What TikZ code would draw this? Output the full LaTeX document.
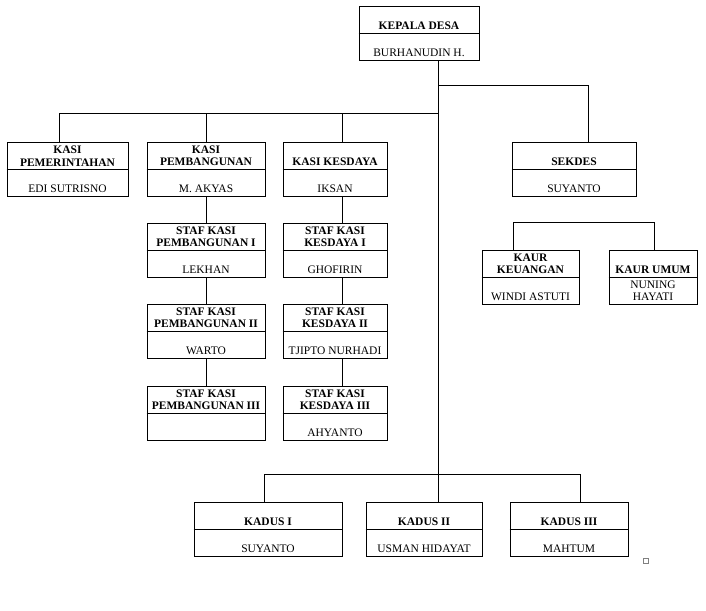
\documentclass[tikz,border=0pt]{standalone}
\usepackage{fontspec}
\setmainfont{Liberation Serif}
\usepackage{tikz}

\begin{document}
\begin{tikzpicture}[x=1pt,y=-1pt,line width=0.9pt]
	\useasboundingbox (0,0) rectangle (706,610);
	\tikzstyle{box}=[draw,minimum height=54pt,inner sep=0pt]
	\tikzstyle{ttl}=[anchor=south,align=center,inner sep=2.5pt,font=\fontsize{11.5}{12.5}\selectfont\bfseries]
	\tikzstyle{nm}=[anchor=south,align=center,inner sep=3.5pt,font=\fontsize{11.5}{12.5}\selectfont]
	\node[box,minimum width=120pt] (kades) at (419,33) {};
	\node[box,minimum width=121pt] (kasipem) at (67.5,169) {};
	\node[box,minimum width=118pt] (kasipb) at (206,169) {};
	\node[box,minimum width=104pt] (kasiks) at (335,169) {};
	\node[box,minimum width=124pt] (sekdes) at (574,169) {};
	\node[box,minimum width=118pt] (stafpb1) at (206,250) {};
	\node[box,minimum width=118pt] (stafpb2) at (206,331) {};
	\node[box,minimum width=118pt] (stafpb3) at (206,413) {};
	\node[box,minimum width=104pt] (stafks1) at (335,250) {};
	\node[box,minimum width=104pt] (stafks2) at (335,331) {};
	\node[box,minimum width=104pt] (stafks3) at (335,413) {};
	\node[box,minimum width=97pt] (kaurku) at (530.5,277) {};
	\node[box,minimum width=88pt] (kaurum) at (653,277) {};
	\node[box,minimum width=148pt] (kadus1) at (268,529) {};
	\node[box,minimum width=116pt] (kadus2) at (424,529) {};
	\node[box,minimum width=118pt] (kadus3) at (569,529) {};
	\draw	(kades.west)--(kades.east) (kasipem.west)--(kasipem.east) (kasipb.west)--(kasipb.east)
			(kasiks.west)--(kasiks.east) (sekdes.west)--(sekdes.east)
			(stafpb1.west)--(stafpb1.east) (stafpb2.west)--(stafpb2.east) (stafpb3.west)--(stafpb3.east)
			(stafks1.west)--(stafks1.east) (stafks2.west)--(stafks2.east) (stafks3.west)--(stafks3.east)
			(kaurku.west)--(kaurku.east) (kaurum.west)--(kaurum.east)
			(kadus1.west)--(kadus1.east) (kadus2.west)--(kadus2.east) (kadus3.west)--(kadus3.east);
	\node[ttl] (kadest) at (kades.center) {KEPALA DESA};
	\node[nm] (kadesn) at (kades.south) {BURHANUDIN H.};
	\node[ttl] (kasipemt) at (kasipem.center) {KASI\\PEMERINTAHAN};
	\node[nm] (kasipemn) at (kasipem.south) {EDI SUTRISNO};
	\node[ttl] (kasipbt) at (kasipb.center) {KASI\\PEMBANGUNAN};
	\node[nm] (kasipbn) at (kasipb.south) {M. AKYAS};
	\node[ttl] (kasikst) at (kasiks.center) {KASI KESDAYA};
	\node[nm] (kasiksn) at (kasiks.south) {IKSAN};
	\node[ttl] (sekdest) at (sekdes.center) {SEKDES};
	\node[nm] (sekdesn) at (sekdes.south) {SUYANTO};
	\node[ttl] (stafpb1t) at (stafpb1.center) {STAF KASI\\PEMBANGUNAN I};
	\node[nm] (stafpb1n) at (stafpb1.south) {LEKHAN};
	\node[ttl] (stafpb2t) at (stafpb2.center) {STAF KASI\\PEMBANGUNAN II};
	\node[nm] (stafpb2n) at (stafpb2.south) {WARTO};
	\node[ttl] (stafpb3t) at (stafpb3.center) {STAF KASI\\PEMBANGUNAN III};
	\node[ttl] (stafks1t) at (stafks1.center) {STAF KASI\\KESDAYA I};
	\node[nm] (stafks1n) at (stafks1.south) {GHOFIRIN};
	\node[ttl] (stafks2t) at (stafks2.center) {STAF KASI\\KESDAYA II};
	\node[nm] (stafks2n) at (stafks2.south) {TJIPTO NURHADI};
	\node[ttl] (stafks3t) at (stafks3.center) {STAF KASI\\KESDAYA III};
	\node[nm] (stafks3n) at (stafks3.south) {AHYANTO};
	\node[ttl] (kaurkut) at (kaurku.center) {KAUR\\KEUANGAN};
	\node[nm] (kaurkun) at (kaurku.south) {WINDI ASTUTI};
	\node[ttl] (kaurumt) at (kaurum.center) {KAUR UMUM};
	\node[nm] (kaurumn) at (kaurum.south) {NUNING\\HAYATI};
	\node[ttl] (kadus1t) at (kadus1.center) {KADUS I};
	\node[nm] (kadus1n) at (kadus1.south) {SUYANTO};
	\node[ttl] (kadus2t) at (kadus2.center) {KADUS II};
	\node[nm] (kadus2n) at (kadus2.south) {USMAN HIDAYAT};
	\node[ttl] (kadus3t) at (kadus3.center) {KADUS III};
	\node[nm] (kadus3n) at (kadus3.south) {MAHTUM};
	\coordinate (b2) at (438,85);
	\coordinate (b1) at (438,113);
	\coordinate (tk) at (438,474);
	\draw	(kades.south -| tk)--(tk)
			([xshift=14pt]sekdes.north) |- (b2)
			([xshift=-8.5pt]kasipem.north) |- (b1)
			(kasipb.north) |- (b1)
			([xshift=7pt]kasiks.north) |- (b1);
	\draw	(kasipb.south)--(stafpb1.north) (stafpb1.south)--(stafpb2.north) (stafpb2.south)--(stafpb3.north)
			([xshift=7pt]kasiks.south)--([xshift=7pt]stafks1.north)
			([xshift=7pt]stafks1.south)--([xshift=7pt]stafks2.north)
			([xshift=7pt]stafks2.south)--([xshift=7pt]stafks3.north);
	\draw	([xshift=-17.5pt]kaurku.north) -- ++(0,-27) -| ([xshift=1pt]kaurum.north);
	\draw	([xshift=-4pt]kadus1.north) |- (tk)
			([xshift=14pt]kadus2.north)--(tk)
			([xshift=11pt]kadus3.north) |- (tk);
	\draw[line width=0.4pt,gray] (643,558) rectangle (648,563);
\end{tikzpicture}
\end{document}
